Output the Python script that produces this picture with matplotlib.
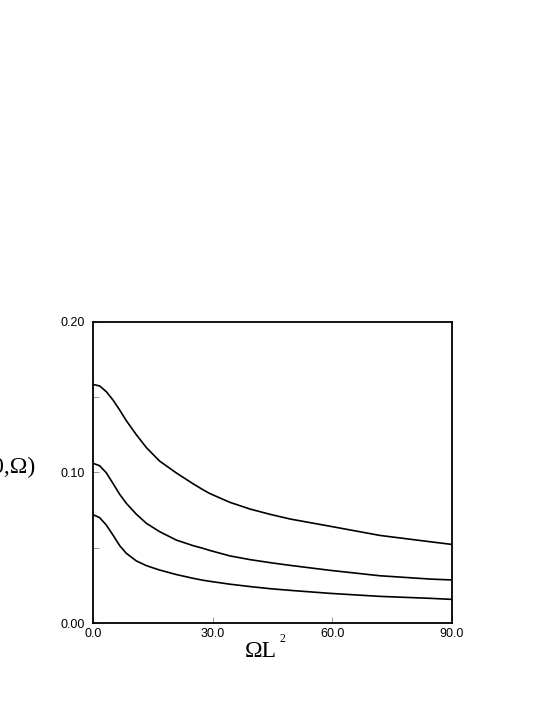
import matplotlib.pyplot as plt
from matplotlib.ticker import MultipleLocator

# values
omega_l2 = [0.0, 1.67, 3.34, 5.0, 6.7, 8.36, 10.9, 13.4, 16.7, 20.9, 25.1, 27.6,
            29.3, 34.3, 39.4, 44.4, 49.4, 59.4, 71.9, 84.5, 90.0]
s_top = [0.1585, 0.1575, 0.1537, 0.1482, 0.1415, 0.1344, 0.1250, 0.1165, 0.1076,
         0.0997, 0.0925, 0.0885, 0.0860, 0.0802, 0.0757, 0.0722, 0.0691,
         0.0643, 0.0582, 0.0540, 0.0522]
s_mid = [0.1061, 0.1045, 0.0998, 0.0928, 0.0855, 0.0795, 0.0722, 0.0662, 0.0607,
         0.0551, 0.0514, 0.0496, 0.0482, 0.0446, 0.0421, 0.0401, 0.0383,
         0.0350, 0.0314, 0.0292, 0.0286]
s_bot = [0.0720, 0.0700, 0.0651, 0.0585, 0.0514, 0.0463, 0.0412, 0.0381, 0.0352,
         0.0322, 0.0297, 0.0284, 0.0277, 0.0258, 0.0242, 0.0228, 0.0217,
         0.0197, 0.0177, 0.0164, 0.0157]

xticks = [0, 30, 60, 90]
xticklabels = ['0.0', '30.0', '60.0', '90.0']
yticks = [0.0, 0.1, 0.2]
yticklabels = ['0.00', '0.10', '0.20']

fig = plt.figure(figsize=(5.45, 7.05), dpi=100)
ax = fig.add_axes([0.1706, 0.1163, 0.6587, 0.4270])

for ys in (s_top, s_mid, s_bot):
    ax.plot(omega_l2, ys, color='black', lw=1.2)

ax.set_xlim(0, 90)
ax.set_ylim(0, 0.2)
ax.set_xticks(xticks)
ax.set_xticklabels(xticklabels)
ax.set_yticks(yticks)
ax.set_yticklabels(yticklabels)
ax.yaxis.set_minor_locator(MultipleLocator(0.05))
ax.tick_params(direction='in', length=4, width=0.6, color='#888888',
               labelsize=9, pad=6)
ax.tick_params(which='minor', direction='in', length=4, width=0.6, color='#888888')
ax.tick_params(axis='x', pad=3.5)
for lab in ax.get_xticklabels() + ax.get_yticklabels():
    lab.set_family('Liberation Sans')
for s in ax.spines.values():
    s.set_linewidth(1.3)

# axis titles
fig.text(0.508, 0.068, 'ΩL', family='Liberation Serif', fontsize=17,
         ha='right', va='baseline')
fig.text(0.513, 0.0894, '2', family='Liberation Serif', fontsize=8.5,
         ha='left', va='baseline')
fig.text(0.066, 0.337, 'S(0,Ω)', family='Liberation Serif', fontsize=17,
         ha='right', va='center')

fig.savefig('out.png', dpi=100)
